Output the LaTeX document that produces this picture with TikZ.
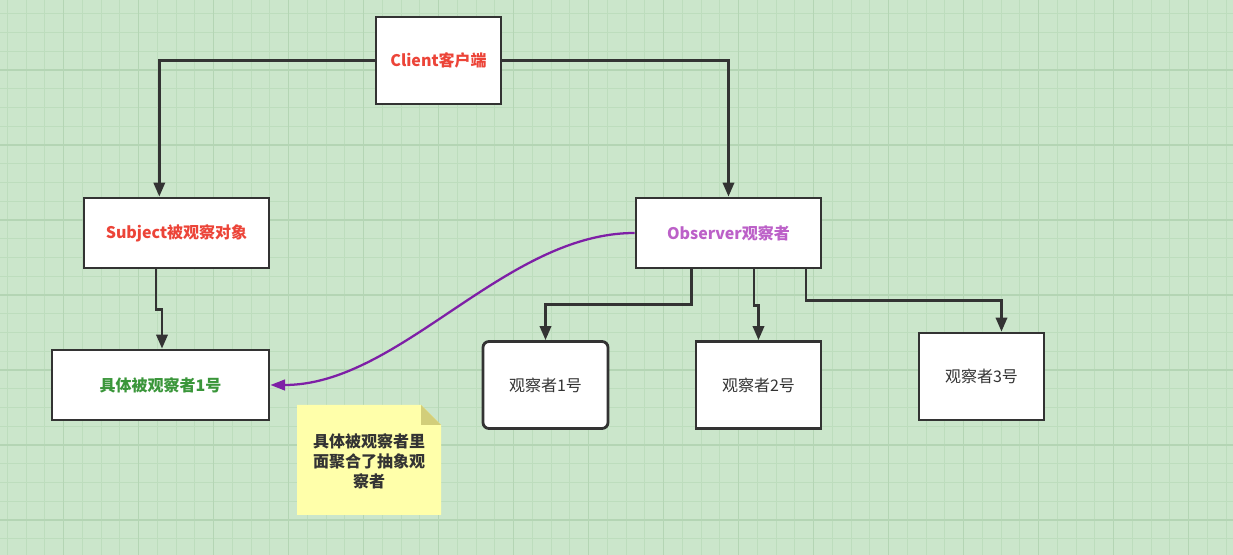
\documentclass[tikz,border=0pt]{standalone}
\usepackage{fontspec}
\setmainfont{Noto Sans CJK SC}
\usetikzlibrary{arrows.meta,calc}
\definecolor{bgc}{RGB}{203,230,203}
\definecolor{gridminor}{RGB}{189,221,189}
\definecolor{gridmajor}{RGB}{180,213,180}
\definecolor{linec}{RGB}{51,51,51}
\definecolor{redt}{RGB}{236,68,56}
\definecolor{purplet}{RGB}{188,96,200}
\definecolor{greent}{RGB}{58,150,58}
\definecolor{purplel}{RGB}{126,31,166}
\definecolor{notefill}{RGB}{255,255,170}
\definecolor{notefold}{RGB}{210,206,122}
\tikzset{
  box/.style={draw=linec,line width=2.1pt,fill=white,inner sep=0pt,
    minimum width=125*0.75pt,minimum height=87*0.75pt,font=\fontsize{12pt}{14pt}\selectfont},
  bigbox/.style={box,minimum width=185*0.75pt,minimum height=70*0.75pt,font=\fontsize{12pt}{14pt}\selectfont\bfseries},
  conn/.style={draw=linec,line width=1.9pt,-{Triangle[length=10.5pt,width=8.5pt]}},
  pconn/.style={draw=purplel,line width=1.7pt,-{Triangle[length=11pt,width=8pt]}},
}
\begin{document}
\begin{tikzpicture}[x=0.75pt,y=-0.75pt]
\useasboundingbox (0,0) rectangle (1233,555);
\fill[bgc] (0,0) rectangle (1233,555);
\foreach \gx in {7.45,26.2,...,1233} \draw[gridminor,line width=0.75pt] (\gx,0) -- (\gx,555);
\foreach \gy in {13.75,32.5,...,555} \draw[gridminor,line width=0.75pt] (0,\gy) -- (1233,\gy);
\foreach \gx in {63.7,138.7,...,1233} \draw[gridmajor,line width=0.9pt] (\gx,0) -- (\gx,555);
\foreach \gy in {70,145,...,555} \draw[gridmajor,line width=0.9pt] (0,\gy) -- (1233,\gy);

\node[box,font=\fontsize{12pt}{14pt}\selectfont\bfseries,text=redt] (client) at (438.5,60.5) {Client客户端};
\node[bigbox,text=redt] (subject) at (176.5,233) {Subject被观察对象};
\node[bigbox,text=purplet] (observer) at (728.5,233) {Observer观察者};
\node[bigbox,minimum width=217*0.75pt,text=greent] (conc) at (160.5,385) {具体被观察者1号};
\node[box,rounded corners=4.5pt,text=linec] (obs1) at (545.5,385) {观察者1号};
\node[box,text=linec] (obs2) at (758.5,385) {观察者2号};
\node[box,text=linec] (obs3) at (981.5,376.5) {观察者3号};

\fill[notefill] (297,405) -- (421,405) -- (441,425) -- (441,515) -- (297,515) -- cycle;
\fill[notefold] (421,405) -- (441,425) -- (421,425) -- cycle;
\node[align=center,text=linec,font=\fontsize{12pt}{15pt}\selectfont\bfseries,inner sep=0pt] (note) at (369,461)
  {具体被观察者里\\面聚合了抽象观\\察者};

\draw[conn] (client.west) -| ($(subject.north)+(-17.2,0)$);
\draw[conn] (client.east) -| (observer.north);
\draw[conn] ($(subject.south)+(-20.5,0)$) -- ++(0,40) -| ($(conc.north)+(1.5,0)$);
\draw[conn] ($(observer.south)+(-37,0)$) -- ++(0,35) -| (obs1.north);
\draw[conn] ($(observer.south)+(25.5,0)$) -- ++(0,36) -| (obs2.north);
\draw[conn] ($(observer.south)+(77.5,0)$) -- ++(0,31) -| ($(obs3.north)+(20,0)$);
\draw[pconn] (observer.west) .. controls +(-130,0) and +(130,0) .. (conc.east);
\end{tikzpicture}
\end{document}
